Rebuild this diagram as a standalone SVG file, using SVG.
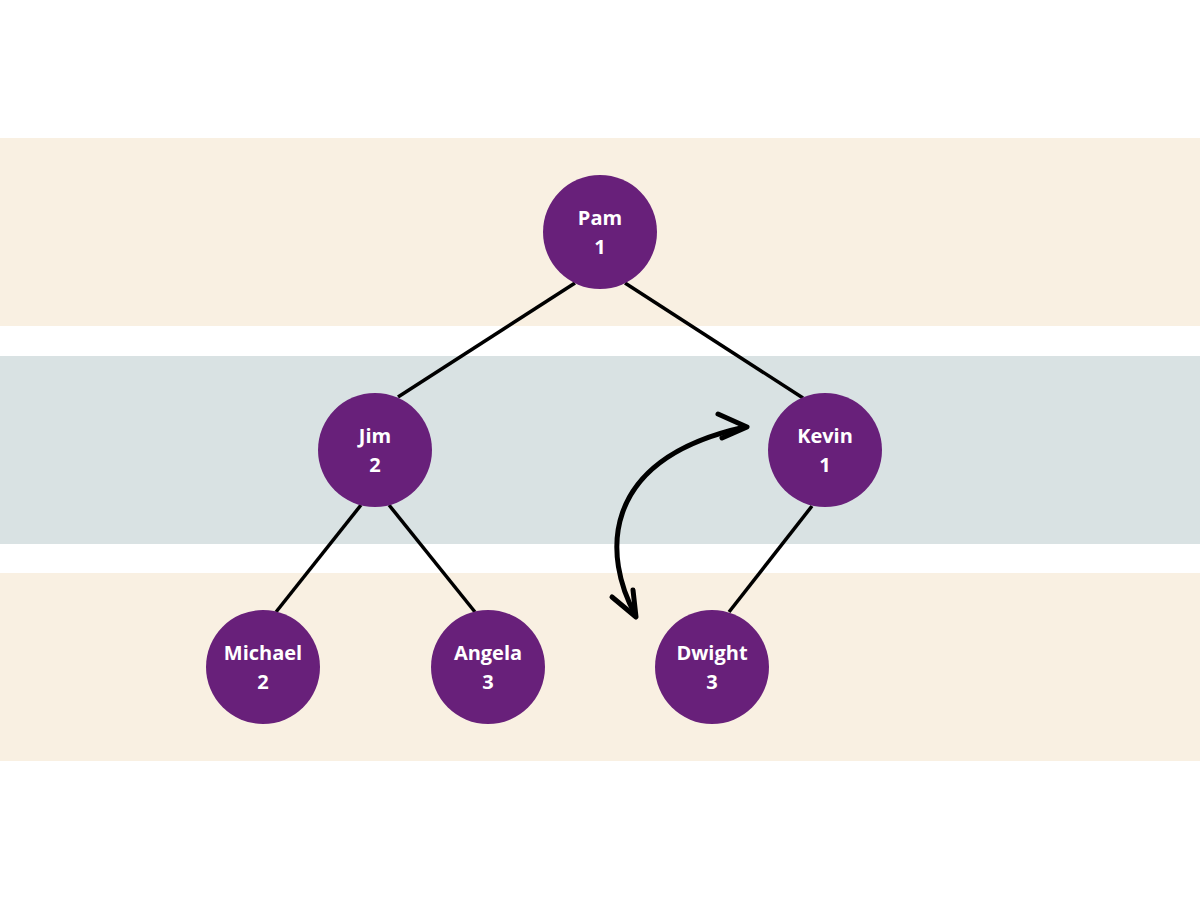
<svg xmlns="http://www.w3.org/2000/svg" width="1200" height="900" viewBox="0 0 1200 900">
<style>
.node circle{fill:#68207a}
.node text{fill:#fff;font-family:"Open Sans","Liberation Sans",sans-serif;font-weight:bold;font-size:20px;text-anchor:middle}
.edge{stroke:#000;stroke-width:3.5;fill:none}
.swap{stroke:#000;stroke-width:5;fill:none;stroke-linecap:round;stroke-linejoin:round}
</style>
<rect width="1200" height="900" fill="#fff"/>
<rect x="0" y="138" width="1200" height="188" fill="#f9f0e2"/>
<rect x="0" y="356" width="1200" height="188" fill="#d9e2e3"/>
<rect x="0" y="573" width="1200" height="188" fill="#f9f0e2"/>
<g id="connectors">
<line class="edge" x1="575" y1="283" x2="398" y2="397"/>
<line class="edge" x1="625" y1="283" x2="803" y2="398"/>
<line class="edge" x1="361" y1="505" x2="276" y2="612"/>
<line class="edge" x1="389" y1="505" x2="475" y2="612"/>
<line class="edge" x1="812" y1="506" x2="729" y2="612"/>
<path class="swap" d="M635,614 C605,560 595,460 745,427"/>
<path class="swap" d="M718,414 L747,427 L722,438"/>
<path class="swap" d="M612,597 L636,617 L633,590"/>
</g>
<g id="pam" class="node"><circle cx="600" cy="232" r="57"/><text x="600" y="225">Pam</text><text x="600" y="254">1</text></g>
<g id="jim" class="node"><circle cx="375" cy="450" r="57"/><text x="375" y="443">Jim</text><text x="375" y="472">2</text></g>
<g id="kevin" class="node"><circle cx="825" cy="450" r="57"/><text x="825" y="443">Kevin</text><text x="825" y="472">1</text></g>
<g id="michael" class="node"><circle cx="263" cy="667" r="57"/><text x="263" y="660">Michael</text><text x="263" y="689">2</text></g>
<g id="angela" class="node"><circle cx="488" cy="667" r="57"/><text x="488" y="660">Angela</text><text x="488" y="689">3</text></g>
<g id="dwight" class="node"><circle cx="712" cy="667" r="57"/><text x="712" y="660">Dwight</text><text x="712" y="689">3</text></g>
</svg>
